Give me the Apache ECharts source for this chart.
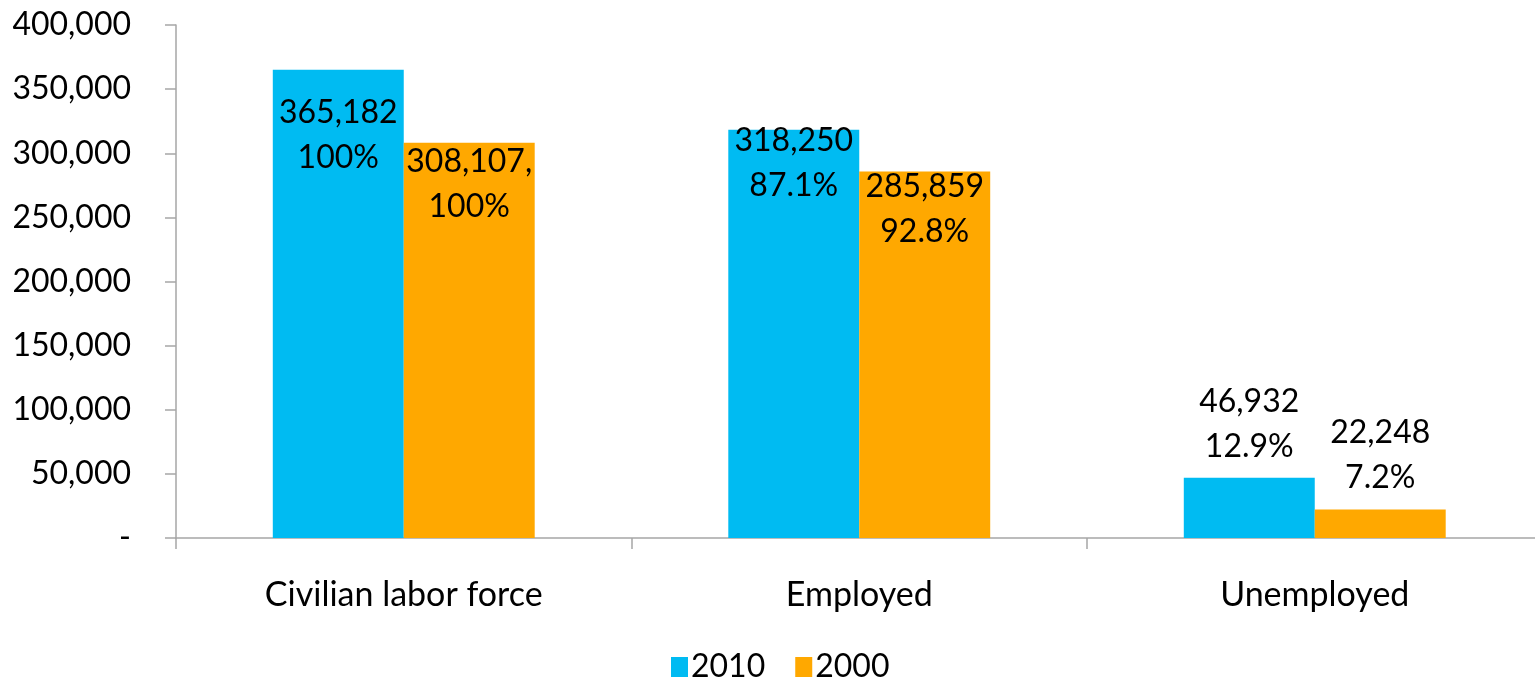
<!DOCTYPE html>
<html>
<head>
<meta charset="utf-8">
<script src="https://cdn.jsdelivr.net/npm/echarts@6/dist/echarts.min.js"></script>
<style>
html,body{margin:0;padding:0;background:#fff;}
#chart{width:1535px;height:690px;}
</style>
</head>
<body>
<div id="chart"></div>
<script>
const categories = ['Civilian labor force', 'Employed', 'Unemployed'];
const seriesNames = ['2010', '2000'];
const values2010 = [365182, 318250, 46932];
const values2000 = [308107, 285859, 22248];
const countText2010 = ['365,182', '318,250', '46,932'];
const countText2000 = ['308,107,', '285,859', '22,248'];
const pctText2010 = ['100%', '87.1%', '12.9%'];
const pctText2000 = ['100%', '92.8%', '7.2%'];
const yTicks = [0, 50000, 100000, 150000, 200000, 250000, 300000, 350000, 400000];

const FONT = 'Lato';
const colors = ['#00BBF2', '#FFA800'];

// label placement styles (position / offset per bar)
const labelPlace2010 = [
  { position: 'insideTop', offset: [0, 16] },
  { position: 'insideTop', offset: [0, -17] },
  { position: 'top', offset: [0, -4] }
];
const labelPlace2000 = [
  { position: 'insideTop', offset: [0, -9] },
  { position: 'insideTop', offset: [0, -12] },
  { position: 'top', offset: [0, -4] }
];

function buildData(values, counts, pcts, places) {
  return values.map((v, i) => ({
    value: v,
    label: Object.assign({
      show: true,
      formatter: counts[i] + '\n' + pcts[i]
    }, places[i])
  }));
}

const chart = echarts.init(document.getElementById('chart'));
chart.setOption({
  animation: false,
  textStyle: { fontFamily: FONT },
  grid: { left: 176, width: 1366.5, top: 25, bottom: 152, containLabel: false, outerBoundsMode: 'none' },
  legend: {
    data: seriesNames,
    bottom: 2,
    left: 666,
    itemWidth: 17,
    itemHeight: 20,
    itemGap: 30,
    icon: 'rect',
    textStyle: { fontFamily: FONT, fontSize: 32, color: '#000', padding: [0, 0, 0, -2] }
  },
  xAxis: {
    type: 'category',
    data: categories,
    axisLine: { show: true, lineStyle: { color: '#A6A6A6', width: 1.5 } },
    axisTick: { show: true, length: 11, alignWithLabel: false, lineStyle: { color: '#A6A6A6', width: 1.5 } },
    axisLabel: { fontFamily: FONT, fontSize: 34, color: '#000', margin: 40 }
  },
  yAxis: {
    type: 'value',
    min: yTicks[0],
    max: yTicks[yTicks.length - 1],
    interval: yTicks[1] - yTicks[0],
    splitLine: { show: false },
    axisLine: { show: true, lineStyle: { color: '#A6A6A6', width: 1.5 } },
    axisTick: { show: true, length: 11, lineStyle: { color: '#A6A6A6', width: 1.5 } },
    axisLabel: {
      fontFamily: FONT, fontSize: 32, color: '#000', margin: 45,
      formatter: v => v === 0 ? '-' : v.toLocaleString('en-US')
    }
  },
  series: [
    {
      name: seriesNames[0],
      type: 'bar',
      data: buildData(values2010, countText2010, pctText2010, labelPlace2010),
      itemStyle: { color: colors[0] },
      barGap: '0%',
      barCategoryGap: '42.5%',
      label: { fontFamily: FONT, fontSize: 32, color: '#000', lineHeight: 45 }
    },
    {
      name: seriesNames[1],
      type: 'bar',
      data: buildData(values2000, countText2000, pctText2000, labelPlace2000),
      itemStyle: { color: colors[1] },
      barGap: '0%',
      barCategoryGap: '42.5%',
      label: { fontFamily: FONT, fontSize: 32, color: '#000', lineHeight: 45 }
    }
  ]
});
</script>
</body>
</html>
